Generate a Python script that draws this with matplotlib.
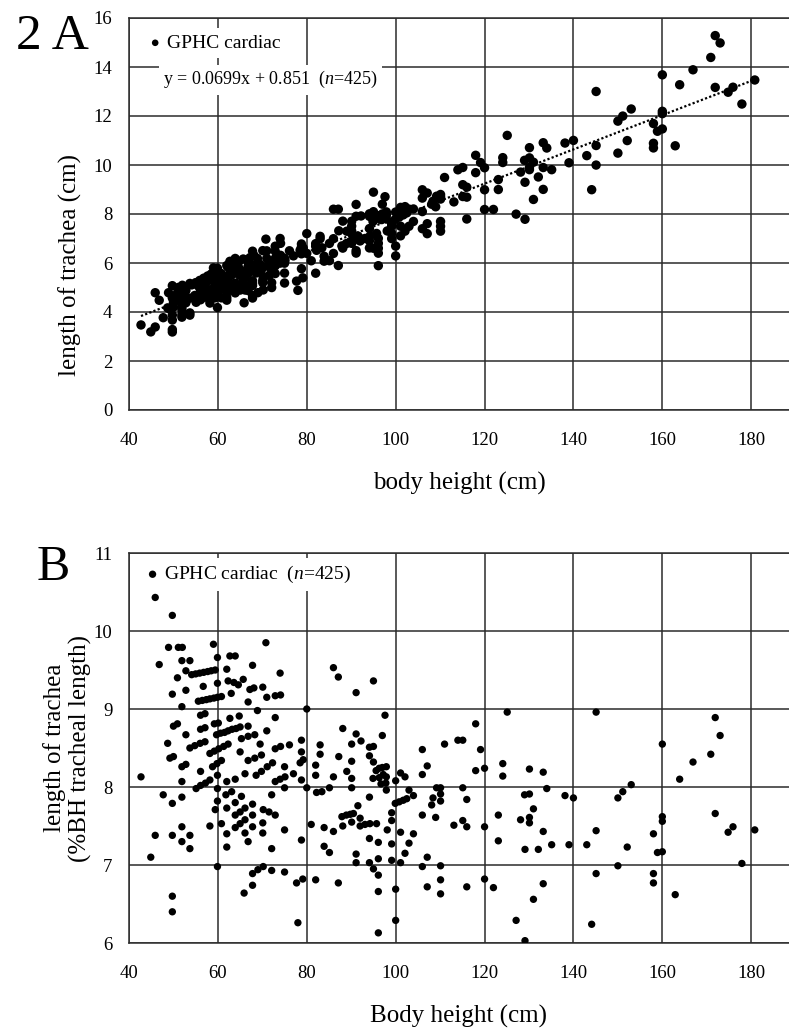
# plot.py
# 气管长度 vs 身高：两个面板（A：绝对长度，B：%BH）

import matplotlib
matplotlib.use('Agg')
import matplotlib.pyplot as plt
import numpy as np

plt.rcParams['font.family'] = ['Liberation Serif', 'DejaVu Serif']
plt.rcParams['mathtext.fontset'] = 'custom'
plt.rcParams['mathtext.rm'] = 'Liberation Serif'
plt.rcParams['mathtext.it'] = 'Liberation Serif:italic'

# -----------------数据（从B图读取：身高 cm, 气管长度 %BH）
bh_cm = [
    42.7, 44.9, 45.9, 45.9, 46.8, 47.7, 48.7, 48.9, 49.2, 50.0, 49.75, 49.75, 49.75, 49.75, 49.75, 49.75,
    50.0, 50.9, 50.9, 51.1, 52.0, 51.9, 53.7, 52.8, 52.8, 51.9, 51.9, 52.8, 51.9, 51.9, 51.9, 51.9,
    53.7, 53.7, 52.8,
    54.1, 55.0, 55.9, 56.8, 57.7, 58.5, 59.4,
    56.7, 59.0, 59.9, 59.9,
    55.6, 56.5, 57.4, 58.2, 59.1, 59.9, 60.8,
    56.1, 57.1, 56.1, 57.1, 59.2, 60.1,
    53.7, 54.8, 56.0, 57.1,
    58.2, 59.2, 60.2, 61.3, 62.3,
    58.8, 59.8, 60.8, 56.1, 59.9,
    55.1, 56.1, 57.2, 58.2,
    59.9, 59.9, 59.4, 58.2, 60.8, 59.9,
    # 60-85
    59.7, 60.6, 61.5, 62.3, 63.2, 64.1, 65.0,
    62.0, 62.7, 63.9, 62.3, 63.6, 65.7, 64.6, 63.0, 67.2, 68.1, 70.1, 67.8, 70.8, 74.0,
    66.8, 71.0, 72.9, 74.1, 68.9, 80.0, 62.7, 64.8, 72.9, 66.8, 71.0,
    65.3, 66.8, 68.3, 69.5, 72.9, 74.1, 76.1, 78.8, 83.0, 78.8, 65.0, 83.0,
    66.8, 68.3, 69.8, 78.5, 79.2,
    68.6, 69.8, 71.1, 72.3, 75.0, 82.0, 63.9, 66.1, 77.0, 82.0, 62.0,
    72.9, 74.0, 75.1, 75.0, 78.8, 80.0, 82.2, 83.4, 61.8, 63.1, 65.3, 72.1,
    63.9, 67.8, 62.0, 63.9, 65.0, 66.1, 67.8, 70.2, 71.5, 72.9,
    63.9, 65.0, 66.1, 67.8, 70.1, 75.0, 81.0, 83.9, 62.0, 66.1, 70.1, 66.8, 62.0, 72.1,
    78.8, 83.9, 67.8, 69.0, 70.2, 72.1, 75.0, 77.7, 79.1, 82.0, 67.8, 65.9, 78.0,
    # 85-140
    86.0, 87.1, 91.1, 95.0, 87.2, 85.1, 86.0, 86.0, 85.1, 87.1,
    97.6, 125.1, 88.1, 91.1, 92.2, 97.0, 118.0, 90.1, 94.1, 95.0, 106.0, 111.0, 114.0, 115.1, 119.1,
    90.1, 94.1, 95.0, 124.1, 124.1, 118.0, 120.0, 130.1, 133.2, 107.1, 106.0, 101.1, 100.0, 102.1,
    89.0, 90.1, 90.1,
    95.6, 96.3, 97.0, 97.9, 94.9, 96.3, 97.2, 97.9, 96.7, 97.8, 97.9,
    103.0, 104.0, 109.2, 110.1, 108.4, 110.1, 110.1, 108.1, 115.1, 116.0, 134.0, 129.0, 130.1,
    138.1, 140.0, 94.1, 99.9, 100.8, 101.7, 102.5, 91.5, 99.1, 99.1, 106.0, 109.0, 131.0, 123.1,
    130.1, 130.1, 128.1, 87.9, 88.9, 89.8, 90.5, 90.1, 88.1, 92.0, 93.1, 94.2, 95.7, 92.0,
    98.1, 101.1, 104.0, 113.1, 115.1, 116.0, 120.0, 133.2, 94.1, 96.1, 99.1, 103.0, 123.1,
    129.1, 132.1, 135.1, 139.0, 91.1, 91.1, 96.1, 99.1, 102.1, 107.1, 101.1, 94.1, 95.0, 96.1,
    106.0, 110.1, 96.1, 100.0, 107.1, 110.1, 110.1, 116.0, 120.0, 122.0, 133.2, 131.0,
    100.0, 96.1, 127.1, 129.1,
    # 140-182
    145.1, 160.0, 171.9, 173.0, 170.9, 166.9, 163.9, 153.0, 151.1, 150.0, 160.0, 160.0, 171.9,
    175.9, 174.8, 180.8, 145.1, 158.0, 143.0, 152.1, 158.9, 160.0, 150.0, 177.9, 145.1, 158.0,
    158.0, 162.9, 144.1,
]
pct_bh = [
    8.13, 7.10, 7.38, 10.43, 9.57, 7.90, 8.56, 9.79, 8.37, 8.39, 10.20, 9.19, 7.79, 7.38, 6.60, 6.40,
    8.78, 8.81, 9.40, 9.79, 9.79, 9.62, 9.62, 9.24, 8.67, 9.03, 8.26, 8.29, 8.07, 7.87, 7.49, 7.30,
    7.38, 7.21, 9.49,
    9.44, 9.45, 9.46, 9.47, 9.48, 9.49, 9.50,
    9.29, 9.83, 9.66, 9.33,
    9.10, 9.11, 9.12, 9.13, 9.14, 9.15, 9.16,
    8.92, 8.94, 8.74, 8.76, 8.81, 8.82,
    8.50, 8.53, 8.56, 8.58,
    8.43, 8.46, 8.49, 8.52, 8.55,
    8.26, 8.30, 8.34, 8.20, 8.15,
    7.98, 8.02, 8.05, 8.09,
    7.98, 7.82, 7.71, 7.50, 7.53, 6.98,
    # 60-85
    8.67, 8.69, 8.70, 8.72, 8.74, 8.75, 8.77,
    9.51, 9.68, 9.68, 9.36, 9.34, 9.38, 9.31, 9.20, 9.25, 9.27, 9.28, 9.56, 9.85, 9.46,
    9.09, 9.15, 9.17, 9.18, 8.98, 9.00, 8.88, 8.91, 8.89, 8.78, 8.72,
    8.62, 8.65, 8.67, 8.55, 8.49, 8.52, 8.54, 8.60, 8.54, 8.45, 8.45, 8.42,
    8.34, 8.37, 8.41, 8.31, 8.35,
    8.15, 8.20, 8.26, 8.31, 8.26, 8.28, 8.10, 8.17, 8.17, 8.15, 8.07,
    8.07, 8.10, 8.13, 7.99, 8.09, 7.99, 7.93, 7.94, 7.90, 7.94, 7.88, 7.90,
    7.80, 7.78, 7.73, 7.64, 7.68, 7.73, 7.64, 7.71, 7.68, 7.64,
    7.48, 7.53, 7.58, 7.49, 7.54, 7.45, 7.52, 7.48, 7.40, 7.41, 7.41, 7.30, 7.23, 7.21,
    7.32, 7.24, 6.89, 6.94, 6.98, 6.93, 6.91, 6.77, 6.82, 6.81, 6.74, 6.64, 6.26,
    # 85-140
    9.53, 9.41, 9.21, 9.36, 8.39, 7.99, 8.13, 7.43, 7.16, 6.77,
    8.92, 8.96, 8.75, 8.68, 8.59, 8.66, 8.81, 8.55, 8.51, 8.52, 8.48, 8.55, 8.60, 8.60, 8.48,
    8.33, 8.40, 8.32, 8.30, 8.14, 8.21, 8.24, 8.23, 8.19, 8.27, 8.16, 8.18, 8.08, 8.13,
    8.20, 8.11, 7.99,
    8.21, 8.24, 8.25, 8.26, 8.11, 8.12, 8.16, 8.13, 8.04, 8.05, 7.96,
    7.96, 7.89, 7.99, 7.99, 7.86, 7.91, 7.82, 7.77, 7.99, 7.84, 7.98, 7.90, 7.91,
    7.89, 7.86, 7.87, 7.79, 7.81, 7.83, 7.85, 7.76, 7.67, 7.57, 7.64, 7.61, 7.72, 7.64,
    7.61, 7.54, 7.58, 7.62, 7.64, 7.65, 7.66, 7.55, 7.50, 7.50, 7.52, 7.53, 7.53, 7.60,
    7.45, 7.42, 7.40, 7.51, 7.57, 7.49, 7.49, 7.43, 7.34, 7.29, 7.27, 7.28, 7.31,
    7.20, 7.20, 7.26, 7.26, 7.14, 7.03, 7.08, 7.06, 7.15, 7.10, 7.03, 7.03, 6.95, 6.87,
    6.98, 6.99, 6.66, 6.69, 6.72, 6.81, 6.63, 6.72, 6.82, 6.71, 6.76, 6.56,
    6.29, 6.13, 6.29, 6.03,
    # 140-182
    8.96, 8.55, 8.89, 8.66, 8.42, 8.32, 8.10, 8.03, 7.94, 7.86, 7.62, 7.56, 7.66,
    7.49, 7.42, 7.45, 7.44, 7.40, 7.26, 7.23, 7.16, 7.17, 6.99, 7.02, 6.89, 6.89,
    6.77, 6.62, 6.24,
]

# 回归线系数（图中给出）
slope, intercept = 0.0699, 0.851
n_cases = 425

x_ticks = list(range(40, 181, 20))
yA_ticks = list(range(0, 17, 2))
yB_ticks = list(range(6, 12))

bh = np.array(bh_cm)
pct = np.array(pct_bh)
length_cm = pct * bh / 100.0  # A图：绝对长度 = %BH × 身高

# -----------------绘图
W, H = 789, 1028
fig = plt.figure(figsize=(W / 100, H / 100), dpi=100)
GRID = '#2b2b2b'


def style_axes(ax, yticks):
    ax.set_xlim(40, 188.5)
    ax.set_xticks(x_ticks)
    ax.set_yticks(yticks)
    ax.set_ylim(yticks[0], yticks[-1])
    ax.grid(True, color=GRID, lw=1.1)
    ax.set_axisbelow(True)
    for s in ['left', 'bottom', 'top']:
        ax.spines[s].set_color(GRID)
        ax.spines[s].set_linewidth(1.1)
    ax.spines['right'].set_visible(False)
    ax.tick_params(axis='both', length=0, labelsize=13.5)
    ax.tick_params(axis='x', pad=16)
    ax.tick_params(axis='y', pad=12)


# 面板 A
axA = fig.add_axes([129 / W, 1 - 410 / H, 660 / W, 392 / H])
style_axes(axA, yA_ticks)
hA = axA.scatter(bh, length_cm, s=46, c='black', edgecolors='none', zorder=3,
                 label='GPHC cardiac')
xl = np.array([bh.min(), bh.max()])
axA.plot(xl, slope * xl + intercept, color='black', lw=1.6, ls=(0, (1, 1)), zorder=4)
axA.set_xlabel('body height (cm)', fontsize=18, labelpad=16)
axA.set_ylabel('length of trachea (cm)', fontsize=18)
axA.yaxis.set_label_coords(-0.071, 0.37)
axA.legend(handles=[hA], loc='center left', bbox_to_anchor=(0.022, 0.936), frameon=True,
           facecolor='white', edgecolor='none', framealpha=1, fancybox=False,
           fontsize=14, handlelength=0.6, handletextpad=0.3, borderpad=0.3,
           markerscale=0.7, borderaxespad=0)
axA.text(0.052, 0.842, 'y = %.4fx + %.3f  ($n$=%d)' % (slope, intercept, n_cases),
         transform=axA.transAxes, fontsize=13, va='center', ha='left', zorder=5,
         bbox=dict(facecolor='white', edgecolor='none', pad=3))
fig.text(16 / W, 1 - 37 / H, '2 A', fontsize=37, va='center', ha='left')

# 面板 B
axB = fig.add_axes([129 / W, 1 - 943 / H, 660 / W, 390 / H])
style_axes(axB, yB_ticks)
hB = axB.scatter(bh, pct, s=28, c='black', edgecolors='none', zorder=3,
                 label='GPHC cardiac  ($n$=%d)' % n_cases)
axB.set_xlabel('Body height (cm)', fontsize=18, labelpad=16)
axB.set_ylabel('length of trachea\n(%BH tracheal length)', fontsize=18, linespacing=1.15)
axB.yaxis.set_label_coords(-0.056, 0.5)
axB.legend(handles=[hB], loc='center left', bbox_to_anchor=(0.018, 0.944), frameon=True,
           facecolor='white', edgecolor='none', framealpha=1, fancybox=False,
           fontsize=14, handlelength=0.6, handletextpad=0.3, borderpad=0.3,
           markerscale=1.0, borderaxespad=0)
fig.text(37 / W, 1 - 568 / H, 'B', fontsize=36, va='center', ha='left')

fig.savefig('out.png', dpi=100)
